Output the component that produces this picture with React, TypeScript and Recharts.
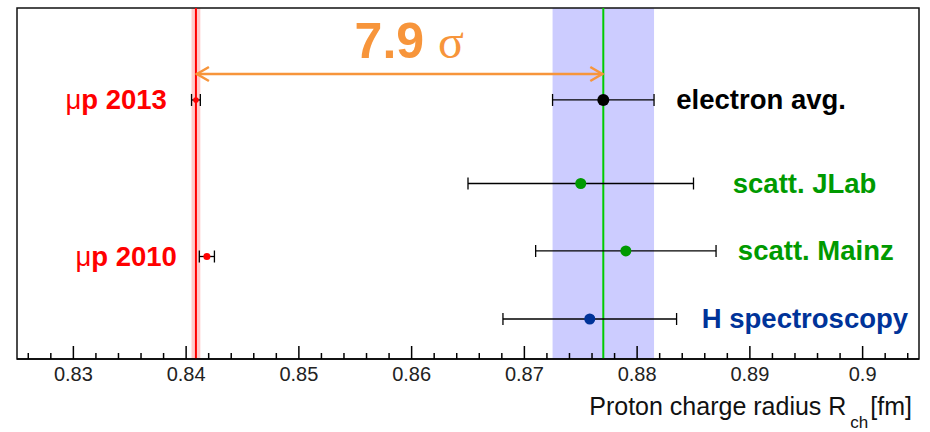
import React from "react";
import {
  ScatterChart,
  Scatter,
  XAxis,
  YAxis,
  ErrorBar,
  ReferenceLine,
  ReferenceArea,
  Label,
} from "recharts";

// Mesures du rayon de charge du proton (fm)
const names = ["μp 2013", "μp 2010", "electron avg.", "scatt. JLab", "scatt. Mainz", "H spectroscopy"];
const radius = [0.84087, 0.84184, 0.877, 0.875, 0.879, 0.8758];
const errors = [0.00039, 0.00067, 0.0045, 0.01, 0.008, 0.0077];
const rows = [3.69, 1.46, 3.69, 2.5, 1.54, 0.57];

const muonValue = 0.84087;
const muonError = 0.00039;
const electronValue = 0.877;
const electronError = 0.0045;
const arrowRow = 4.06;

const majorTicks = [0.83, 0.84, 0.85, 0.86, 0.87, 0.88, 0.89, 0.9];
const allTicks = Array.from({ length: 40 }, (_, i) => Math.round((0.826 + 0.002 * i) * 1000) / 1000);

const FONT = "'Liberation Sans', Arial, Helvetica, sans-serif";
const SERIF = "'Liberation Serif', 'Times New Roman', serif";

// style des étiquettes par mesure
const labelStyle: Record<string, { dx: number; anchor: "start" | "end"; color: string; dot: string; r: number }> = {
  "μp 2013": { dx: -29, anchor: "end", color: "#ff0000", dot: "#ff0000", r: 2.8 },
  "μp 2010": { dx: -30, anchor: "end", color: "#ff0000", dot: "#ff0000", r: 3.5 },
  "electron avg.": { dx: 73, anchor: "start", color: "#000000", dot: "#000000", r: 6 },
  "scatt. JLab": { dx: 152, anchor: "start", color: "#009a00", dot: "#009a00", r: 5.5 },
  "scatt. Mainz": { dx: 112, anchor: "start", color: "#009a00", dot: "#009a00", r: 5.5 },
  "H spectroscopy": { dx: 112, anchor: "start", color: "#003399", dot: "#003399", r: 5.5 },
};

const data = names.map((name, i) => ({ name, x: radius[i], y: rows[i], err: errors[i] }));

const isMajor = (v: number) => majorTicks.some((m) => Math.abs(m - v) < 1e-6);

const AxisTick = (props: any) => {
  const { x, y, payload } = props;
  const major = isMajor(payload.value);
  return (
    <g>
      <line x1={x} x2={x} y1={y} y2={y - (major ? 13 : 6)} stroke="#000" strokeWidth={1.5} />
      {major && (
        <text x={x} y={y + 22} textAnchor="middle" fontSize={20} fontFamily={FONT} fill="#222">
          {String(payload.value)}
        </text>
      )}
    </g>
  );
};

const AxisTitle = (props: any) => {
  const { x, y, width } = props.viewBox;
  return (
    <text x={x + width - 7} y={y + 56} textAnchor="end" fontSize={25} fontFamily={FONT} fill="#111">
      Proton charge radius R
      <tspan dx={4} dy={13} fontSize={17}>ch</tspan>
      <tspan dx={2} dy={-13}>[fm]</tspan>
    </text>
  );
};

const Marker = (props: any) => {
  const { cx, cy, payload } = props;
  const s = labelStyle[payload.name];
  const isMu = payload.name.startsWith("μ");
  return (
    <g>
      <circle cx={cx} cy={cy} r={s.r} fill={s.dot} />
      <text
        x={cx + s.dx}
        y={cy + 9.5}
        textAnchor={s.anchor}
        fontSize={27.5}
        fontWeight="bold"
        fontFamily={FONT}
        fill={s.color}
      >
        {isMu ? (
          <>
            <tspan fontWeight="normal">μ</tspan>
            {payload.name.slice(1)}
          </>
        ) : (
          payload.name
        )}
      </text>
    </g>
  );
};

const NoMarker = () => <g />;

const ArrowShape = (props: any) => {
  const { x1, y1, x2, y2 } = props;
  const c = "#f7953b";
  const mid = (x1 + x2) / 2;
  return (
    <g>
      <line x1={x1} y1={y1} x2={x2} y2={y2} stroke={c} strokeWidth={2.5} />
      <polyline points={`${x1 + 13},${y1 - 7} ${x1 + 1},${y1} ${x1 + 13},${y1 + 7}`} fill="none" stroke={c} strokeWidth={2.5} />
      <polyline points={`${x2 - 13},${y2 - 7} ${x2 - 1},${y2} ${x2 - 13},${y2 + 7}`} fill="none" stroke={c} strokeWidth={2.5} />
      <text x={mid - 45} y={y1 - 16} fontSize={50} fontWeight="bold" fontFamily={FONT} fill={c}>
        7.9 <tspan fontWeight="normal" fontSize={48} fontFamily={SERIF}>σ</tspan>
      </text>
    </g>
  );
};

export default function App() {
  return (
    <div style={{ position: "absolute", left: 0, top: 0, width: 930, height: 432, background: "#fff" }}>
      <ScatterChart width={930} height={432} margin={{ top: 8, right: 11, left: 17, bottom: 13 }}>
        <XAxis
          type="number"
          dataKey="x"
          domain={[0.825, 0.905]}
          ticks={allTicks}
          interval={0}
          tickSize={0}
          tickMargin={0}
          tickLine={false}
          tick={<AxisTick />}
          height={60}
          axisLine={{ stroke: "#000", strokeWidth: 1.5 }}
        >
          <Label content={<AxisTitle />} />
        </XAxis>
        <YAxis type="number" dataKey="y" domain={[0, 5]} hide />
        <ReferenceArea
          x1={electronValue - electronError}
          x2={electronValue + electronError}
          y1={0}
          y2={5}
          fill="#ccccff"
          fillOpacity={1}
          stroke="none"
        />
        <ReferenceArea
          x1={muonValue - muonError}
          x2={muonValue + muonError}
          y1={0}
          y2={5}
          fill="#ffcccc"
          fillOpacity={1}
          stroke="none"
        />
        <ReferenceLine x={muonValue} stroke="#ff0000" strokeWidth={2} />
        <ReferenceLine x={electronValue} stroke="#00cc00" strokeWidth={2} />
        <ReferenceLine
          segment={[
            { x: muonValue, y: arrowRow },
            { x: electronValue, y: arrowRow },
          ]}
          stroke="#f7953b"
          shape={ArrowShape}
        />
        <ReferenceArea x1={0.825} x2={0.905} y1={0} y2={5} fill="none" stroke="#111" strokeWidth={1.5} />
        <Scatter data={data} shape={NoMarker} isAnimationActive={false}>
          <ErrorBar dataKey="err" direction="x" width={6} stroke="#000" strokeWidth={1.3} />
        </Scatter>
        <Scatter data={data} shape={Marker} isAnimationActive={false} />
      </ScatterChart>
    </div>
  );
}
